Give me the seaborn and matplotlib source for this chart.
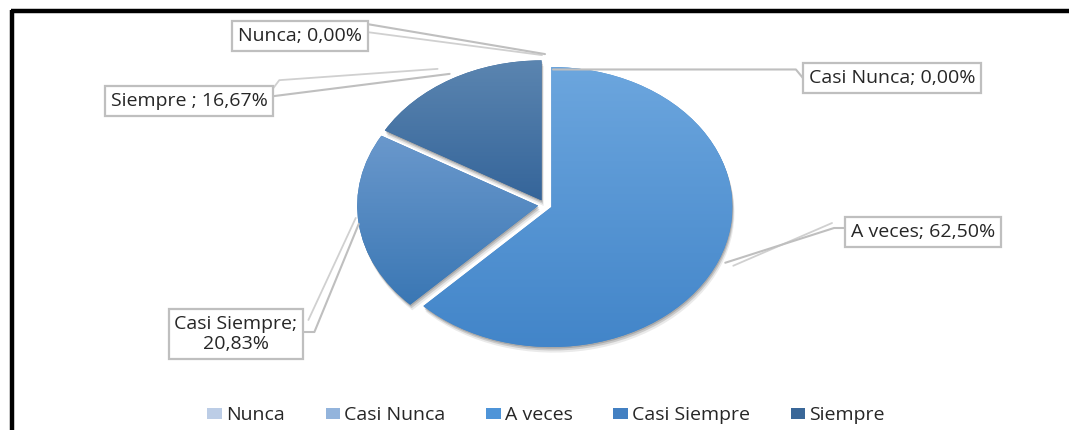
import numpy as np
import matplotlib
matplotlib.use("Agg")
import matplotlib.pyplot as plt
import seaborn as sns
from matplotlib.patches import Patch
from matplotlib import patheffects as pe
from matplotlib.colors import to_rgb

# ---------------- data ----------------
categories = ["Nunca", "Casi Nunca", "A veces", "Casi Siempre", "Siempre"]
percentages = [0.00, 0.00, 62.50, 20.83, 16.67]
label_texts = ["Nunca; 0,00%", "Casi Nunca; 0,00%", "A veces; 62,50%",
               "Casi Siempre;\n20,83%", "Siempre ; 16,67%"]

# ---------------- styles ----------------
top_colors = ["#C9D8EC", "#9DBCE2", "#6CA6DE", "#6A98CC", "#5B85B0"]
bottom_colors = ["#A9C0DE", "#82A6D4", "#4285C9", "#3A77B4", "#35659A"]
legend_colors = ["#BCCDE6", "#93B4DC", "#4E94D8", "#4380C2", "#3A6798"]

sns.set_theme(style="white")
plt.rcParams['font.family'] = ['Open Sans', 'DejaVu Sans']

W, H = 1072, 430
fig = plt.figure(figsize=(W / 100, H / 100), dpi=100)
fig.patch.set_facecolor("white")


def fx(px):
    return px / W


def fy(py):
    return 1 - py / H


# overlay axes in pixel coordinates (y downward)
ov = fig.add_axes([0, 0, 1, 1], zorder=1)
ov.set_xlim(0, W)
ov.set_ylim(H, 0)
ov.axis("off")
ov.patch.set_alpha(0)

# pie axes: elliptical pie
cx, cy, rx, ry = 545, 205, 181, 140
lim = 1.2
ax = fig.add_axes([fx(cx - lim * rx), fy(cy + lim * ry), 2 * lim * rx / W, 2 * lim * ry / H], zorder=0)

explode = [0.038] * len(percentages)
wedges, _ = ax.pie(percentages, startangle=90, counterclock=False, explode=explode,
                   radius=1.0, colors=bottom_colors, normalize=True,
                   wedgeprops=dict(linewidth=0))

for w, ctop, cbot in zip(wedges, top_colors, bottom_colors):
    if abs(w.theta2 - w.theta1) < 1e-6:
        continue
    w.set_path_effects([
        pe.SimplePatchShadow(offset=(1.5, -4.0), shadow_rgbFace="#8C8C8C", alpha=0.18),
        pe.SimplePatchShadow(offset=(1.0, -2.5), shadow_rgbFace="#7F7F7F", alpha=0.3),
        pe.SimplePatchShadow(offset=(0.5, -1.2), shadow_rgbFace="#6F6F6F", alpha=0.35),
        pe.Normal()])
    ext = w.get_path().get_extents()
    n = 256
    t = np.linspace(0, 1, n)[:, None]
    grad = (1 - t) * np.array(to_rgb(ctop)) + t * np.array(to_rgb(cbot))
    img = ax.imshow(grad[:, None, :], extent=[ext.x0, ext.x1, ext.y0, ext.y1],
                    origin="upper", aspect="auto", zorder=3, interpolation="bilinear")
    img.set_clip_path(w)

ax.set_aspect("auto")
ax.set_xlim(-lim, lim)
ax.set_ylim(-lim, lim)
ax.axis("off")

line_col = "#BFBFBF"
label_centers = [(300, 36), (892, 78), (923, 232), (236, 334), (189, 101)]
texts = []
for i, w in enumerate(wedges):
    lx, ly = label_centers[i]
    texts.append(ov.text(lx, ly, label_texts[i], ha="center", va="center", fontsize=14,
                         color="#262626", linespacing=1.2, zorder=5,
                         bbox=dict(boxstyle="square,pad=0.3", fc="white", ec=line_col, lw=1.6)))

# anchor points on wedges (in overlay pixel coordinates)
fig.canvas.draw()
to_ov = ax.transData + ov.transData.inverted()
inv_ov = ov.transData.inverted()


def anchor(w, r):
    mid = np.deg2rad((w.theta1 + w.theta2) / 2)
    x0, y0 = w.center
    return np.array(to_ov.transform((x0 + r * np.cos(mid), y0 + r * np.sin(mid))))


def box(tx):
    bb = tx.get_bbox_patch().get_window_extent()
    (x0, y1), (x1, y0) = inv_ov.transform([[bb.x0, bb.y0], [bb.x1, bb.y1]])
    return x0, x1, y0, y1  # left, right, top, bottom (pixel, y down)


anchor_r = [1.04, 0.93, 1.04, 1.0, 1.06]
paths = []
# Nunca
l, r_, t_, b_ = box(texts[0])
a = anchor(wedges[0], anchor_r[0])
paths.append(([(r_, t_ + 3), tuple(a)], [(r_, t_ + 11), tuple(a + np.array([-3, 1]))]))
# Casi Nunca
l, r_, t_, b_ = box(texts[1])
a = anchor(wedges[1], anchor_r[1]) + np.array([8, 0])
ym = (t_ + b_) / 2
paths.append(([(l, ym), (l - 7, a[1]), (a[0], a[1])], None))
# A veces
l, r_, t_, b_ = box(texts[2])
a = anchor(wedges[2], anchor_r[2])
ym = (t_ + b_) / 2 - 4
paths.append(([(l, ym), (l - 11, ym), tuple(a)], [(l - 13, ym - 5), tuple(a + np.array([8, 3]))]))
# Casi Siempre
l, r_, t_, b_ = box(texts[3])
a = anchor(wedges[3], anchor_r[3])
ym = (t_ + b_) / 2 - 2
paths.append(([(r_, ym), (r_ + 11, ym), tuple(a)], [(r_ + 5, ym - 12), tuple(a + np.array([-3, -6]))]))
# Siempre
l, r_, t_, b_ = box(texts[4])
a = anchor(wedges[4], anchor_r[4])
paths.append(([(r_, t_ + 10), tuple(a + np.array([4, 2]))], [(r_, t_ + 2), (r_ + 6, t_ - 6), tuple(a + np.array([-8, -3]))]))

for main, shadow in paths:
    if shadow is not None:
        ov.plot([p[0] for p in shadow], [p[1] for p in shadow], color="#D0D0D0", lw=1.3, zorder=2)
    ov.plot([p[0] for p in main], [p[1] for p in main], color=line_col, lw=1.5, zorder=2)

# frame lines (left and top)
ov.plot([12, 12], [10, H], color="black", lw=3.2, solid_capstyle="butt", zorder=6)
ov.plot([11, 1069], [11, 11], color="black", lw=3.2, solid_capstyle="butt", zorder=6)

# legend
handles = [Patch(facecolor=c, edgecolor="none") for c in legend_colors]
leg = fig.legend(handles, categories, loc="center", bbox_to_anchor=(fx(546), fy(415)),
                 ncol=5, frameon=False, fontsize=14, handlelength=0.75, handleheight=0.5,
                 handletextpad=0.2, columnspacing=2.1)
for t in leg.get_texts():
    t.set_color("#262626")

fig.savefig("out.png", dpi=100, facecolor="white")
